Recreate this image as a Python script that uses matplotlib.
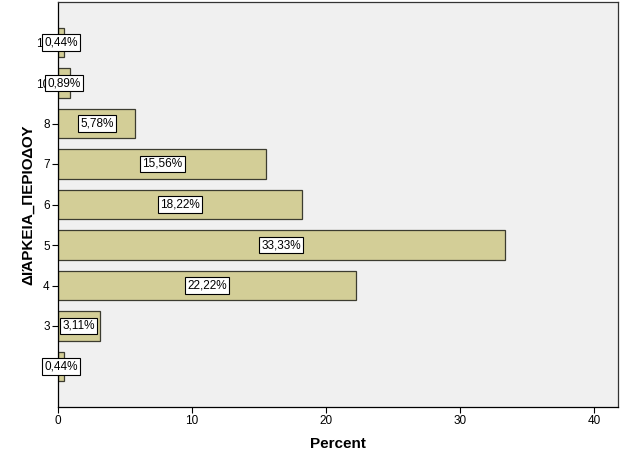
import matplotlib
matplotlib.use("Agg")
import matplotlib.pyplot as plt

categories = ["2", "3", "4", "5", "6", "7", "8", "10", "12"]
percents = [0.44, 3.11, 22.22, 33.33, 18.22, 15.56, 5.78, 0.89, 0.44]
labels = ["0,44%", "3,11%", "22,22%", "33,33%", "18,22%", "15,56%", "5,78%", "0,89%", "0,44%"]

plt.rcParams['font.family'] = ['Liberation Sans', 'DejaVu Sans']

fig = plt.figure(figsize=(6.26, 4.66), dpi=100)
ax = fig.add_axes([58/626, 59/466, 560/626, 405/466])
ax.set_facecolor('#f0f0f0')

pos = list(range(len(categories)))
ax.barh(pos, percents, height=0.74, color='#d3ce97', edgecolor='#3c3c30', linewidth=0.9, zorder=2)
for p, v, t in zip(pos, percents, labels):
    ax.text(v / 2, p, t, ha='center', va='center', fontsize=8.5, zorder=3,
            bbox=dict(boxstyle='square,pad=0.2', facecolor='white', edgecolor='black', linewidth=0.8))

ax.set_xlim(0, 41.8)
ax.set_ylim(-1, 9)
ax.set_xticks([0, 10, 20, 30, 40])
ax.set_yticks(pos)
ax.set_yticklabels(categories)
ax.tick_params(axis='both', labelsize=8.5, length=4, width=0.8, color='black', pad=2)
ax.set_xlabel('Percent', fontsize=11, fontweight='bold', labelpad=7)
ax.set_ylabel('ΔΙΆΡΚΕΙΑ_ΠΕΡΙΟΔΟΥ', fontsize=11, fontweight='bold', labelpad=1)
for s in ax.spines.values():
    s.set_color('#333333')
    s.set_linewidth(0.9)
ax.spines['left'].set_color('black')
ax.spines['bottom'].set_color('black')

fig.savefig('out.png', dpi=100)
